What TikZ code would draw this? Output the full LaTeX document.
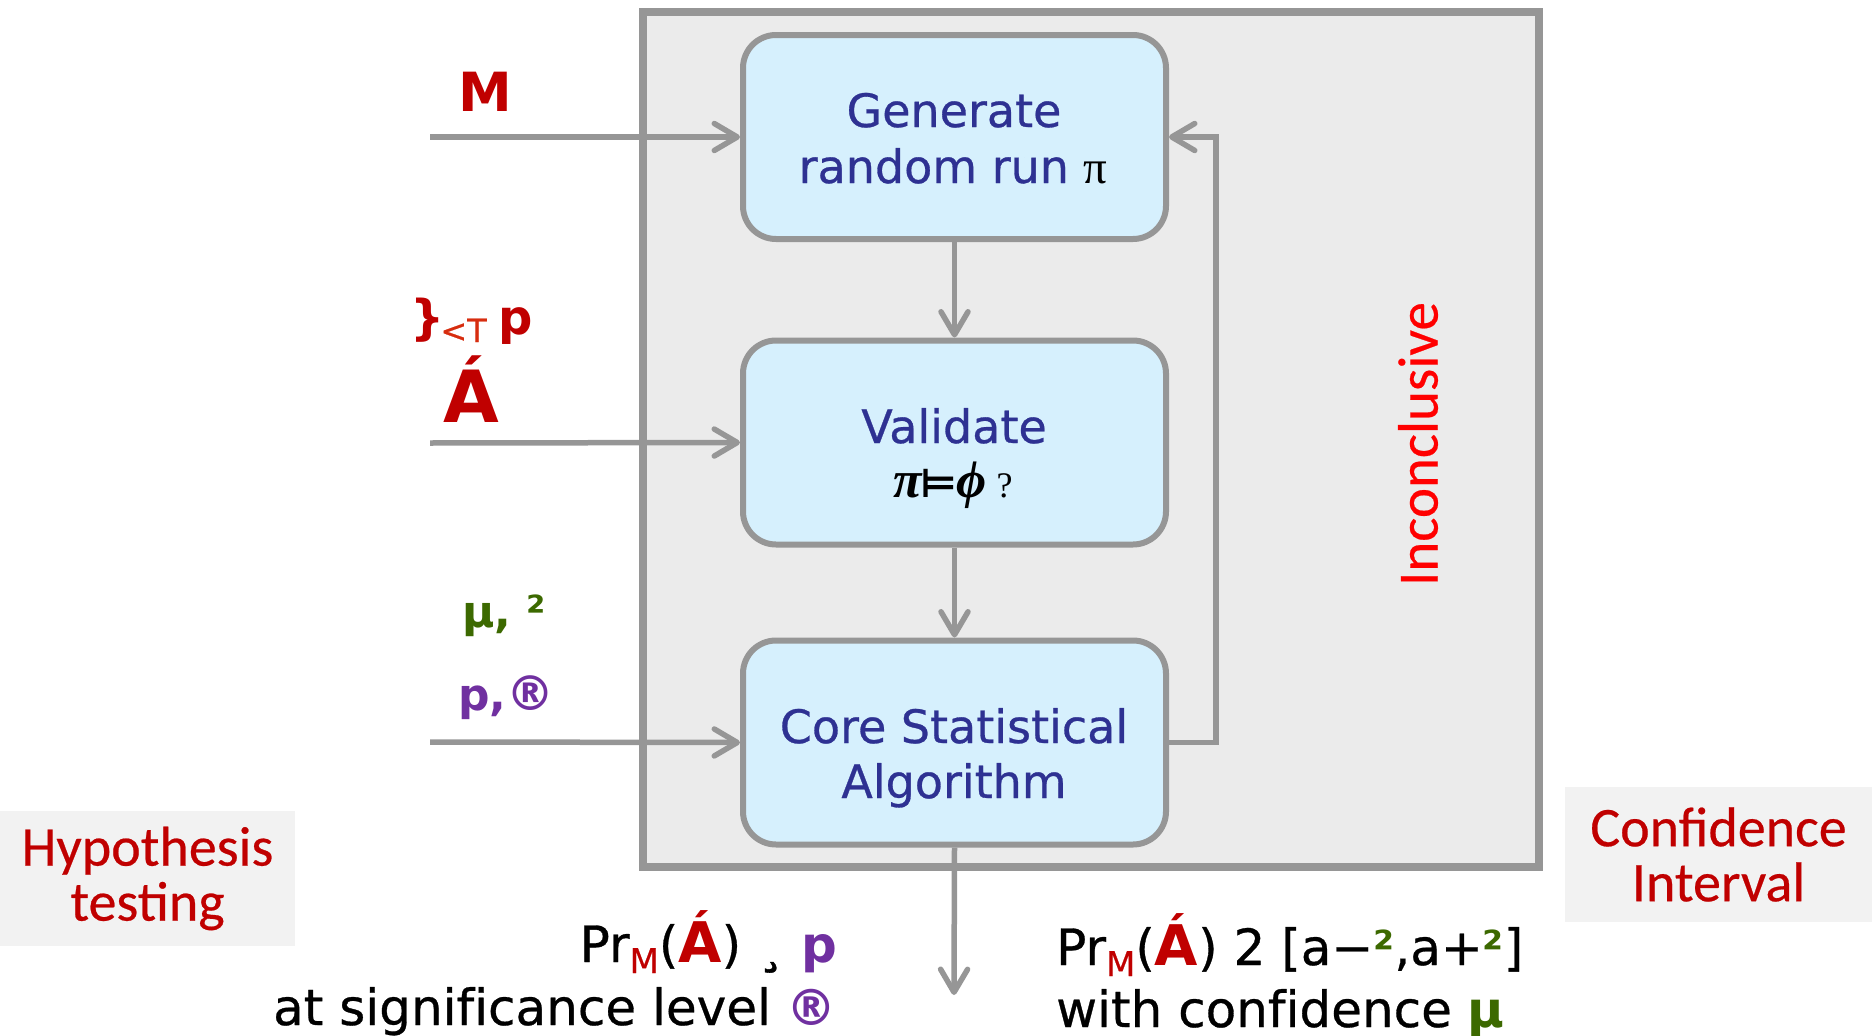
\documentclass[tikz,border=0pt]{standalone}
\usepackage{fontspec}
\usetikzlibrary{arrows.meta}
\newfontfamily\dejasans{DejaVu Sans}[FakeBold=0.6, Ligatures=NoCommon]
\newfontfamily\dejabold{DejaVu Sans Bold}
\newfontfamily\carl{Carlito}[FakeBold=0.4]
\newfontfamily\tms{Liberation Serif}
\newcommand\sz[1]{\fontsize{#1}{#1}\selectfont}
\definecolor{linegray}{RGB}{150,150,150}
\definecolor{framefill}{RGB}{235,235,235}
\definecolor{boxfill}{RGB}{214,240,253}
\definecolor{notefill}{RGB}{242,242,242}
\definecolor{boxblue}{RGB}{46,49,146}
\definecolor{labred}{RGB}{192,0,0}
\definecolor{subred}{RGB}{215,45,15}
\definecolor{labgreen}{RGB}{60,105,0}
\definecolor{labpurple}{RGB}{112,48,160}
\tikzset{
  frame/.style={draw=linegray, fill=framefill, line width=8pt, minimum width=896pt, minimum height=855pt, inner sep=0pt},
  stepbox/.style={draw=linegray, fill=boxfill, line width=6pt, rounded corners=33pt, minimum width=423pt, minimum height=204pt, inner sep=0pt},
  notebox/.style={fill=notefill, inner sep=0pt, align=center, text=labred, font=\carl\fontsize{56}{55}\selectfont},
  flow/.style={draw=linegray, line width=5.5pt, -{Straight Barb[length=23pt,width=27pt,round]}},
  boxtext/.style={text=boxblue, font=\dejasans\sz{46}, inner sep=0pt, anchor=base},
  lab/.style={inner sep=0pt, anchor=base west},
  outtext/.style={inner sep=0pt, font=\dejasans\sz{50}},
}
\begin{document}
\begin{tikzpicture}[x=1pt,y=-1pt]
\useasboundingbox (0,0) rectangle (1872,1036);

% outer frame of the sampling loop
\node[frame] (frame) at (1091,439.5) {};

% the three processing steps
\node[stepbox] (gen)  at (954.5,137)   {};
\node[stepbox] (val)  at (954.5,442.5) {};
\node[stepbox] (core) at (954.5,742.5) {};

\node[boxtext] (gen1) at (954,127) {Generate};
\node[boxtext] (gen2) at (953,183) {random run {\tms\color{black}\sz{47}π}};
\node[boxtext] (val1) at (954,443) {Validate};
\node[boxtext, text=black] (val2) at (953,497)
  {{\tms\bfseries\itshape\sz{52}π}\kern-1pt{\dejabold\sz{40}⊨}\kern-1pt{\tms\bfseries\itshape\sz{52}ϕ}\kern10pt{\tms\sz{36}?}};
\node[boxtext] (core1) at (954,743) {Core Statistical};
\node[boxtext] (core2) at (954,798) {Algorithm};

% vertical label inside the frame
\node[rotate=90, text=red, font=\carl\sz{57}, inner sep=0pt] (inc) at (1418,444) {Inconclusive};

% inputs on the left
\coordinate (inM)   at (430,137);
\coordinate (inPhi) at (430,443);
\coordinate (inPar) at (430,742);
\draw[flow] (inM)   -- (gen.west);
\draw[flow] (inPhi) -- (val.west);
\draw[flow] (inPar) -- (core.west);

\node[lab, text=labred, font=\dejabold\sz{54}] (labM) at (458,111) {M};
\node[lab, text=labred, font=\dejabold\sz{48}] (labP) at (410,334)
  {\}\kern-4pt\raisebox{-8pt}{\color{subred}\dejasans\sz{32}<T}\kern12pt p};
\node[lab, text=labred, font=\dejabold\sz{72}] (labPhi) at (443,422) {Á};
\node[lab, text=labgreen, font=\dejabold\sz{44}] (labDE) at (462,627) {µ, ²};
\node[lab, text=labpurple, font=\dejabold\sz{44}] (labPA) at (458,710) {p,{\sz{48}®}};

% flow between the steps
\draw[flow] (gen.south) -- (val.north);
\draw[flow] (val.south) -- (core.north);
\draw[flow] (core.east) -- ++(47,0) |- (gen.east);

% output
\coordinate (outEnd) at (954,995);
\draw[flow] (core.south) -- (outEnd);

% result descriptions
\node[notebox, minimum width=295pt, minimum height=135pt] (hyp) at (147.5,878.5) {Hypothesis\\testing};
\node[notebox, minimum width=307pt, minimum height=135pt] (conf) at (1718.5,854.5) {Confidence\\Interval};

\node[outtext, anchor=base east] (hypA) at (837,962)
  {Pr\raisebox{-11pt}{\color{labred}\sz{34}M}({\color{labred}\dejabold\sz{56}Á}) {\sz{56}¸} {\color{labpurple}\dejabold\sz{50}p}};
\node[outtext, anchor=base east] (hypB) at (837,1025)
  {at significance level {\color{labpurple}\dejabold ®}};
\node[outtext, anchor=base west] (confA) at (1056,965)
  {Pr\raisebox{-11pt}{\color{labred}\sz{34}M}({\color{labred}\dejabold\sz{56}Á}) 2 [a−{\color{labgreen}\dejabold\sz{48}²},a+{\color{labgreen}\dejabold\sz{48}²}]};
\node[outtext, anchor=base west] (confB) at (1056,1027)
  {with confidence {\color{labgreen}\dejabold µ}};
\end{tikzpicture}
\end{document}
